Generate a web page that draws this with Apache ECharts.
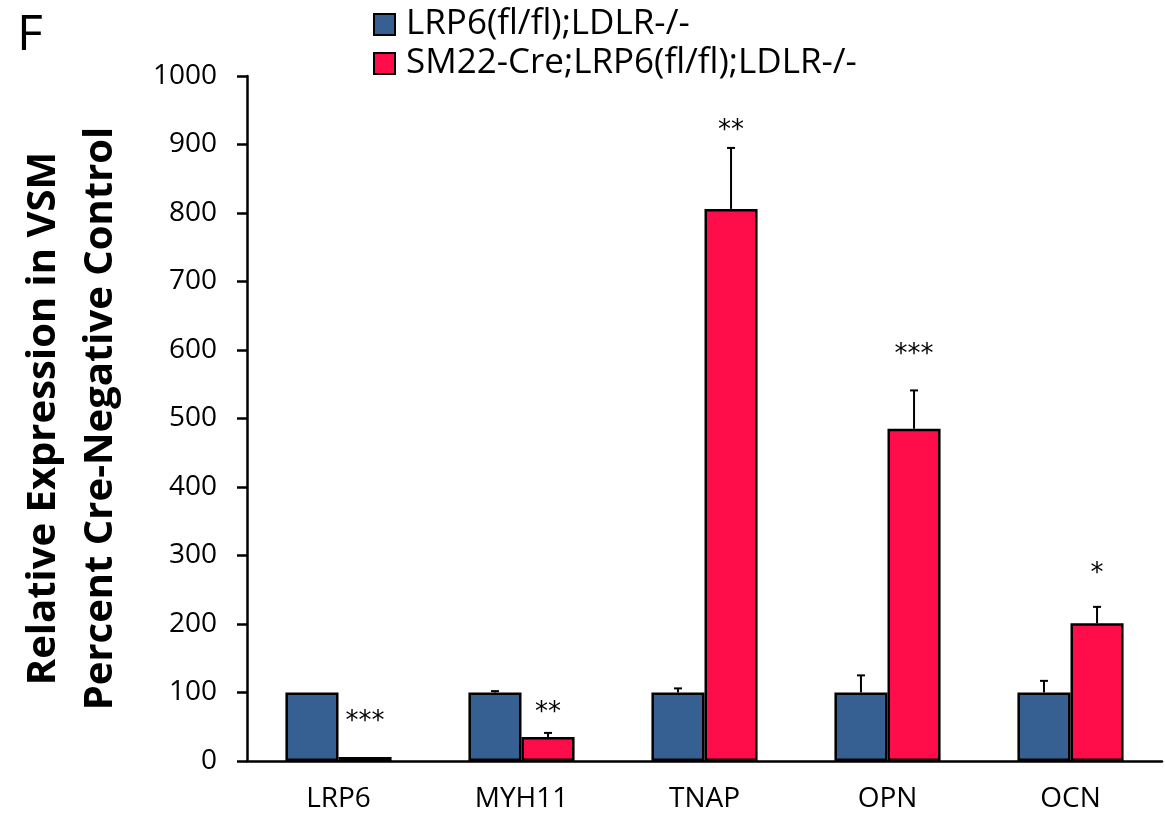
<!DOCTYPE html>
<html>
<head>
<meta charset="utf-8">
<script src="https://cdn.jsdelivr.net/npm/echarts@6/dist/echarts.min.js"></script>
<style>
  html, body { margin: 0; padding: 0; background: #fff; }
  #chart { width: 1165px; height: 832px; }
</style>
</head>
<body>
<div id="chart"></div>
<script>
var categories = ['LRP6', 'MYH11', 'TNAP', 'OPN', 'OCN'];
var controlValues = [100, 100, 100, 100, 100];
var controlErrors = [0, 2, 6, 25, 17];
var creValues = [6, 35, 806, 485, 201];
var creErrors = [0, 6, 89, 56, 24];
var stars = ['***', '**', '**', '***', '*'];
var starLevels = [57, 70, 920, 593, 273];
var yTicks = [0, 100, 1000];   // min, interval, max

var font = '"Open Sans", sans-serif';
var barFrac = 0.29;

var myChart = echarts.init(document.getElementById('chart'));

// error bar data: [category index, value, error, side (-1 = control, 1 = cre)]
var errData = [];
for (var i = 0; i < categories.length; i++) {
    if (controlErrors[i] > 0) errData.push([i, controlValues[i], controlErrors[i], -1]);
    if (creErrors[i] > 0) errData.push([i, creValues[i], creErrors[i], 1]);
}
var starData = [];
for (var j = 0; j < categories.length; j++) {
    starData.push([j, starLevels[j], stars[j]]);
}

var option = {
    animation: false,
    title: {
        text: 'F',
        left: 12,
        top: 6,
        textStyle: { fontFamily: font, fontSize: 50, fontWeight: 'normal', color: '#000' }
    },
    legend: {
        orient: 'vertical',
        left: 368,
        top: 2,
        itemWidth: 21,
        itemHeight: 21,
        itemGap: 4,
        icon: 'rect',
        textStyle: { fontFamily: font, fontSize: 35, color: '#000', padding: [0, 0, 0, 6] },
        data: ['LRP6(fl/fl);LDLR-/-', 'SM22-Cre;LRP6(fl/fl);LDLR-/-']
    },
    grid: { left: 247, right: 3, top: 76, bottom: 71, outerBoundsMode: 'none' },
    xAxis: {
        type: 'category',
        data: categories,
        axisLine: { lineStyle: { color: '#000', width: 2.5 } },
        axisTick: { length: 10, lineStyle: { color: '#000', width: 2.5 } },
        axisLabel: { fontFamily: font, fontSize: 28, color: '#000', margin: 24 }
    },
    yAxis: {
        type: 'value',
        min: yTicks[0],
        max: yTicks[2],
        interval: yTicks[1],
        name: 'Relative Expression in VSM\nPercent Cre-Negative Control',
        nameLocation: 'middle',
        nameGap: 118,
        nameTextStyle: { fontFamily: font, fontSize: 40, fontWeight: 'bold', color: '#000', lineHeight: 57 },
        splitLine: { show: false },
        axisLine: { show: true, lineStyle: { color: '#000', width: 2.5 } },
        axisTick: { show: true, length: 10, lineStyle: { color: '#000', width: 2.5 } },
        axisLabel: {
            fontFamily: font, fontSize: 28, color: '#000', margin: 30,
            formatter: function (v) { return String(v); }
        }
    },
    series: [
        {
            name: 'LRP6(fl/fl);LDLR-/-',
            type: 'bar',
            barWidth: '29%',
            barGap: '0%',
            data: controlValues,
            itemStyle: { color: '#376092', borderColor: '#000', borderWidth: 2.5 }
        },
        {
            name: 'SM22-Cre;LRP6(fl/fl);LDLR-/-',
            type: 'bar',
            barWidth: '29%',
            barGap: '0%',
            data: creValues,
            itemStyle: { color: '#FF0D4B', borderColor: '#000', borderWidth: 2.5 }
        },
        {
            type: 'custom',
            silent: true,
            z: 1,
            data: errData,
            renderItem: function (params, api) {
                var c = api.coord([api.value(0), api.value(1)]);
                var top = api.coord([api.value(0), api.value(1) + api.value(2)]);
                var bw = api.size([1, 0])[0] * barFrac;
                var x = c[0] + api.value(3) * bw / 2;
                var style = { stroke: '#000', lineWidth: 2 };
                return {
                    type: 'group',
                    children: [
                        { type: 'line', shape: { x1: x, y1: c[1], x2: x, y2: top[1] }, style: style },
                        { type: 'line', shape: { x1: x - 4, y1: top[1], x2: x + 4, y2: top[1] }, style: style }
                    ]
                };
            }
        },
        {
            type: 'custom',
            silent: true,
            data: starData,
            renderItem: function (params, api) {
                var c = api.coord([api.value(0), api.value(1)]);
                var bw = api.size([1, 0])[0] * barFrac;
                return {
                    type: 'text',
                    x: c[0] + bw / 2,
                    y: c[1],
                    style: {
                        text: starData[params.dataIndex][2],
                        font: '26px "DejaVu Sans", sans-serif',
                        fill: '#000',
                        align: 'center',
                        verticalAlign: 'middle'
                    }
                };
            }
        }
    ]
};

myChart.setOption(option);
</script>
</body>
</html>
